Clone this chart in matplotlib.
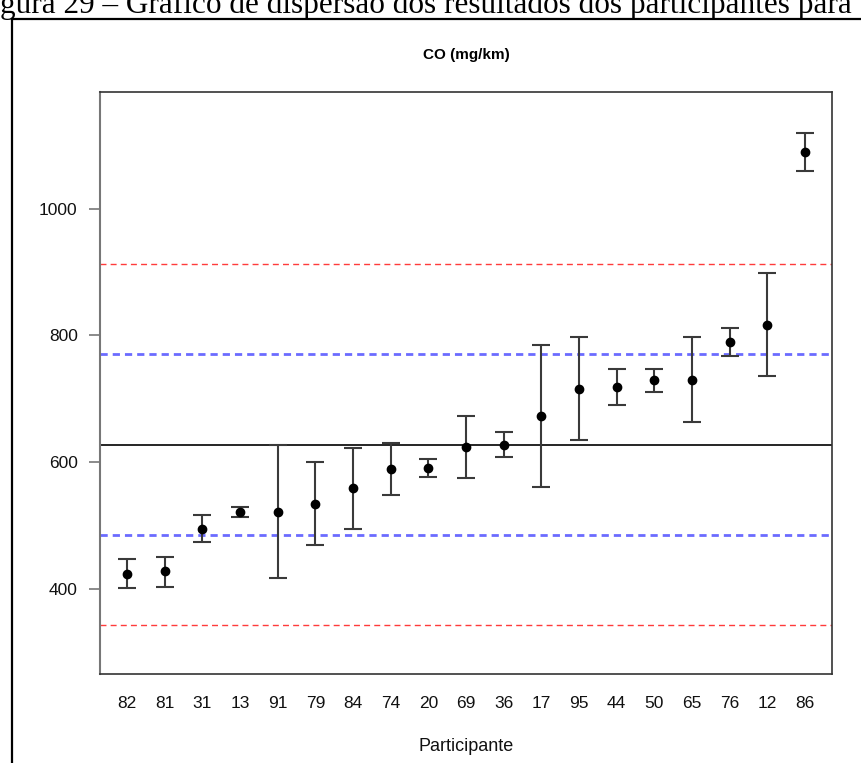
import numpy as np
import matplotlib.pyplot as plt
from matplotlib.lines import Line2D

plt.rcParams['font.family'] = ['Liberation Sans', 'DejaVu Sans']

# participant results, sorted by value, with the limits of each interval
participants = ['82', '81', '31', '13', '91', '79', '84', '74', '20', '69',
                '36', '17', '95', '44', '50', '65', '76', '12', '86']
values = [424, 428, 495, 522, 522, 534, 559, 589, 591, 624,
          628, 673, 716, 719, 729, 730, 789, 817, 1090]
lower = [401, 404, 474, 514, 417, 469, 494, 548, 577, 575,
         608, 561, 635, 691, 711, 663, 768, 736, 1060]
upper = [447, 451, 517, 530, 627, 600, 623, 631, 605, 673,
         648, 785, 797, 747, 747, 797, 812, 899, 1119]

assigned_value = 628
limit_2s = [485, 771]
limit_3s = [343, 913]

fig = plt.figure(figsize=(8.61, 7.63), dpi=100)
ax = fig.add_axes([0.1161, 0.1166, 0.9663 - 0.1161, 0.8794 - 0.1166])

x = np.arange(1, len(participants) + 1)
vals = np.array(values)
yerr = np.vstack([vals - np.array(lower), np.array(upper) - vals])

ax.errorbar(x, vals, yerr=yerr, fmt='none', ecolor='#3a3a3a', elinewidth=1.5,
            capsize=6.5, capthick=1.5, zorder=3)
ax.plot(x, vals, 'o', color='black', markersize=6, zorder=4)

ax.axhline(assigned_value, color='black', lw=1.2, zorder=2)
for y in limit_2s:
    ax.axhline(y, color='#6b6bff', lw=2, dashes=(2.6, 1.8), zorder=1)
for y in limit_3s:
    ax.axhline(y, color='#ff3b3b', lw=1, dashes=(4.3, 3.0), zorder=1)

ax.set_xlim(0.28, 19.72)
ax.set_ylim(266, 1184)
ax.set_xticks(x)
ax.set_xticklabels(participants)
ax.set_yticks([400, 600, 800, 1000])
ax.tick_params(axis='x', length=0, pad=16, labelsize=12.5, labelcolor='#111111')
ax.tick_params(axis='y', length=8, width=1.2, color='#777777', pad=8,
               labelsize=12.5, labelcolor='#111111')

for side in ['top', 'right', 'bottom']:
    ax.spines[side].set_color('#333333')
    ax.spines[side].set_linewidth(1.2)
ax.spines['left'].set_color('#777777')
ax.spines['left'].set_linewidth(1.5)

ax.set_title('CO (mg/km)', fontsize=11, fontweight='bold', pad=24)
ax.set_xlabel('Participante', fontsize=13, labelpad=19, color='#111111')

# document frame and caption
fig.add_artist(Line2D([12 / 861, 12 / 861], [0, 1 - 19 / 763],
                      transform=fig.transFigure, color='black', lw=1.6))
fig.add_artist(Line2D([12 / 861, 1], [1 - 19 / 763, 1 - 19 / 763],
                      transform=fig.transFigure, color='black', lw=1.6))
fig.text(0.0, 1 - 13 / 763, 'gura 29 – Gráfico de dispersão dos resultados dos participantes para',
         family='Liberation Serif', fontsize=22.5, ha='left', va='baseline')

fig.savefig('out.png', dpi=100)
